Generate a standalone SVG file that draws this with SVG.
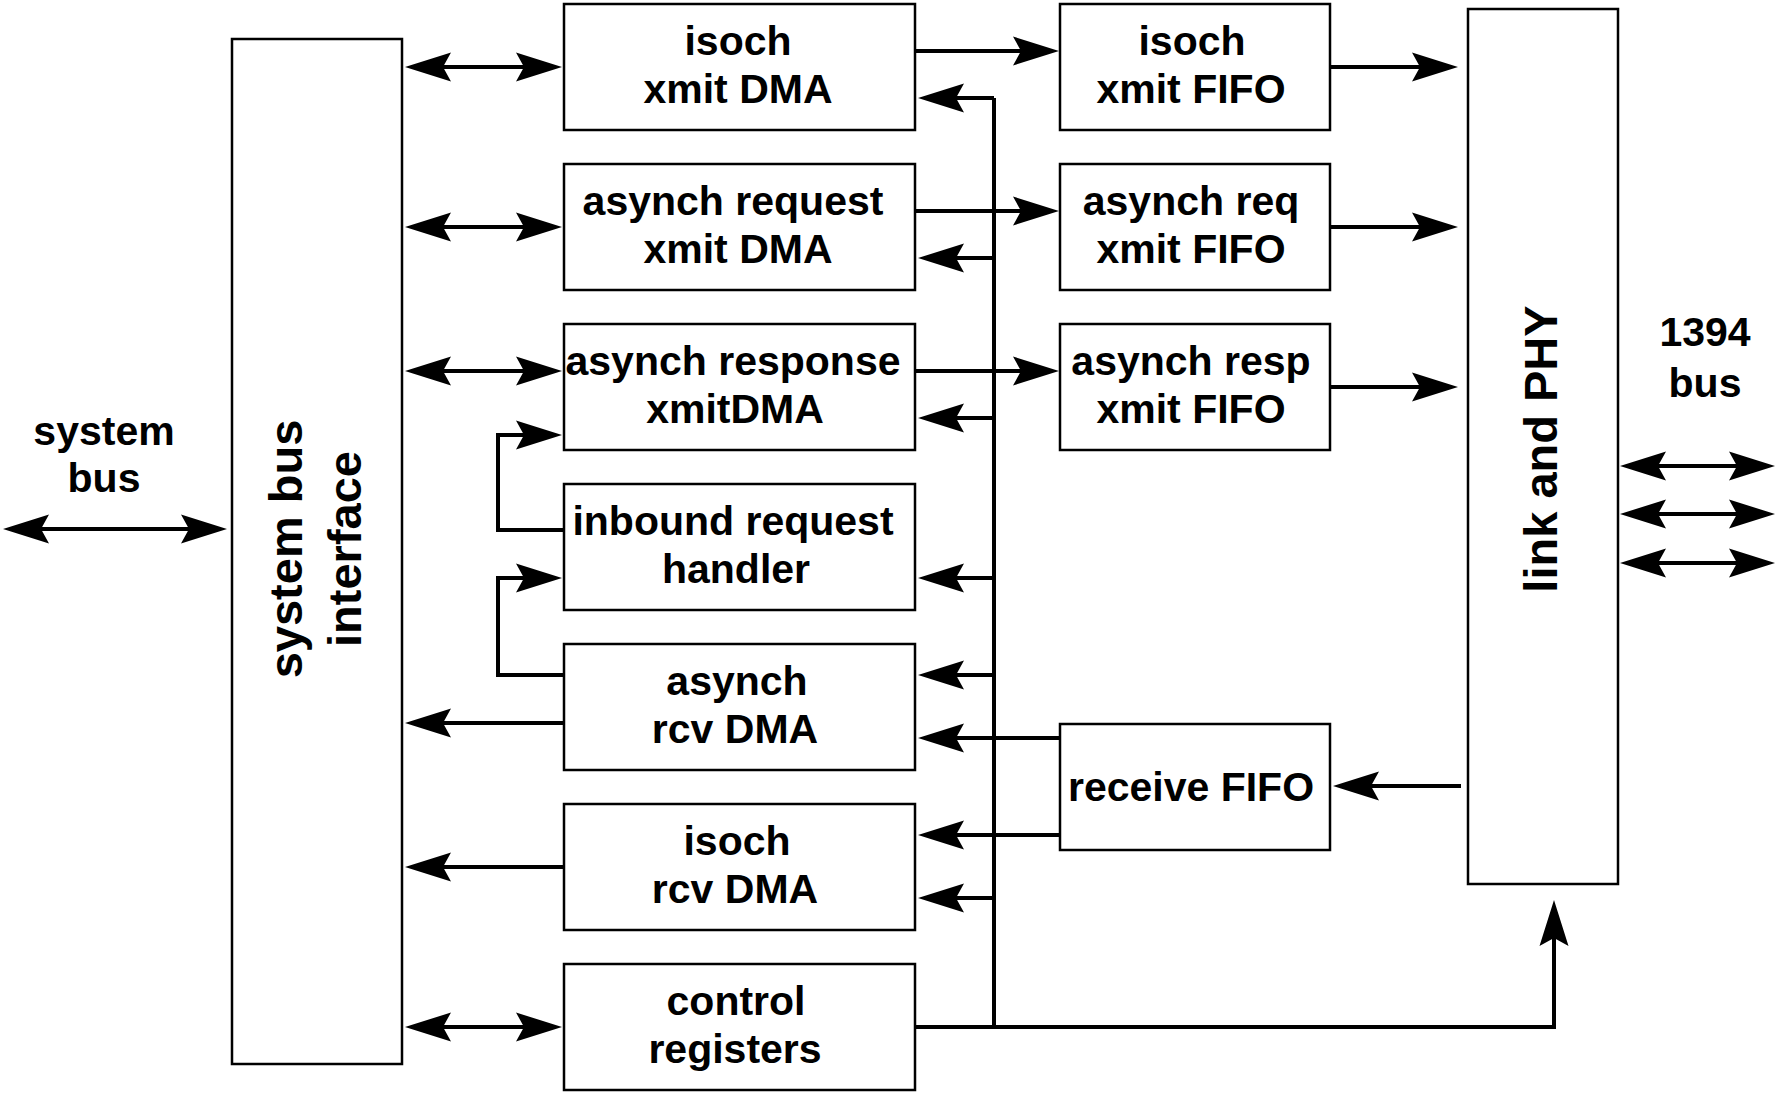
<svg xmlns="http://www.w3.org/2000/svg" width="1775" height="1096" viewBox="0 0 1775 1096">
<style>
.box{fill:#fff;stroke:#000;stroke-width:2.5}
.lbl{font-family:"Liberation Sans",Arial,sans-serif;font-weight:bold;font-size:41px;text-anchor:middle;fill:#000}
.big{font-size:47px}
.cn{fill:none;stroke:#000;stroke-width:4}
</style>
<defs>
<marker id="ah" markerUnits="userSpaceOnUse" markerWidth="48" markerHeight="32" viewBox="-46 -16 48 32" refX="-8" refY="0" orient="auto-start-reverse">
<path d="M0,0 L-46,-14.5 L-38,0 L-46,14.5 Z" fill="#000"/>
</marker>
</defs>
<rect width="1775" height="1096" fill="#fff"/>

<g id="system-bus-label">
<text class="lbl" x="104" y="445">system</text>
<text class="lbl" x="104" y="492">bus</text>
</g>
<g id="bus1394-label">
<text class="lbl" x="1705" y="346">1394</text>
<text class="lbl" x="1705" y="397">bus</text>
</g>

<g id="system-bus-interface">
<rect class="box" x="232" y="39" width="170" height="1025"/>
<text class="lbl big" transform="translate(302,549) rotate(-90)">system bus</text>
<text class="lbl big" transform="translate(361,549) rotate(-90)">interface</text>
</g>

<g id="isoch-xmit-dma">
<rect class="box" x="564" y="4" width="351" height="126"/>
<text class="lbl" x="738" y="55">isoch</text>
<text class="lbl" x="738" y="103">xmit DMA</text>
</g>
<g id="asynch-request-xmit-dma">
<rect class="box" x="564" y="164" width="351" height="126"/>
<text class="lbl" x="733" y="215">asynch request</text>
<text class="lbl" x="738" y="263">xmit DMA</text>
</g>
<g id="asynch-response-xmit-dma">
<rect class="box" x="564" y="324" width="351" height="126"/>
<text class="lbl" x="733" y="375">asynch response</text>
<text class="lbl" x="735" y="423">xmitDMA</text>
</g>
<g id="inbound-request-handler">
<rect class="box" x="564" y="484" width="351" height="126"/>
<text class="lbl" x="733" y="535">inbound request</text>
<text class="lbl" x="736" y="583">handler</text>
</g>
<g id="asynch-rcv-dma">
<rect class="box" x="564" y="644" width="351" height="126"/>
<text class="lbl" x="737" y="695">asynch</text>
<text class="lbl" x="735" y="743">rcv DMA</text>
</g>
<g id="isoch-rcv-dma">
<rect class="box" x="564" y="804" width="351" height="126"/>
<text class="lbl" x="737" y="855">isoch</text>
<text class="lbl" x="735" y="903">rcv DMA</text>
</g>
<g id="control-registers">
<rect class="box" x="564" y="964" width="351" height="126"/>
<text class="lbl" x="736" y="1015">control</text>
<text class="lbl" x="735" y="1063">registers</text>
</g>

<g id="isoch-xmit-fifo">
<rect class="box" x="1060" y="4" width="270" height="126"/>
<text class="lbl" x="1192" y="55">isoch</text>
<text class="lbl" x="1191" y="103">xmit FIFO</text>
</g>
<g id="asynch-req-xmit-fifo">
<rect class="box" x="1060" y="164" width="270" height="126"/>
<text class="lbl" x="1191" y="215">asynch req</text>
<text class="lbl" x="1191" y="263">xmit FIFO</text>
</g>
<g id="asynch-resp-xmit-fifo">
<rect class="box" x="1060" y="324" width="270" height="126"/>
<text class="lbl" x="1191" y="375">asynch resp</text>
<text class="lbl" x="1191" y="423">xmit FIFO</text>
</g>
<g id="receive-fifo">
<rect class="box" x="1060" y="724" width="270" height="126"/>
<text class="lbl" x="1191" y="801">receive FIFO</text>
</g>

<g id="link-and-phy">
<rect class="box" x="1468" y="9" width="150" height="875"/>
<text class="lbl big" transform="translate(1557,449) rotate(-90)">link and PHY</text>
</g>

<g id="connectors" class="cn">
<path class="cn" d="M11,529 H219" marker-start="url(#ah)" marker-end="url(#ah)"/>
<path class="cn" d="M413,67 H554" marker-start="url(#ah)" marker-end="url(#ah)"/>
<path class="cn" d="M413,227 H554" marker-start="url(#ah)" marker-end="url(#ah)"/>
<path class="cn" d="M413,371 H554" marker-start="url(#ah)" marker-end="url(#ah)"/>
<path class="cn" d="M413,1027 H554" marker-start="url(#ah)" marker-end="url(#ah)"/>
<path class="cn" d="M564,723 H413" marker-end="url(#ah)"/>
<path class="cn" d="M564,867 H413" marker-end="url(#ah)"/>
<path class="cn" d="M564,530 H498 V435 H554" marker-end="url(#ah)"/>
<path class="cn" d="M564,675 H498 V578 H554" marker-end="url(#ah)"/>
<path class="cn" d="M915,51 H1051" marker-end="url(#ah)"/>
<path class="cn" d="M915,211 H1051" marker-end="url(#ah)"/>
<path class="cn" d="M915,371 H1051" marker-end="url(#ah)"/>
<path class="cn" d="M994,98 V1027"/>
<path class="cn" d="M994,98 H926" marker-end="url(#ah)"/>
<path class="cn" d="M994,258 H926" marker-end="url(#ah)"/>
<path class="cn" d="M994,418 H926" marker-end="url(#ah)"/>
<path class="cn" d="M994,578 H926" marker-end="url(#ah)"/>
<path class="cn" d="M994,675 H926" marker-end="url(#ah)"/>
<path class="cn" d="M1060,738 H926" marker-end="url(#ah)"/>
<path class="cn" d="M1060,835 H926" marker-end="url(#ah)"/>
<path class="cn" d="M994,898 H926" marker-end="url(#ah)"/>
<path class="cn" d="M915,1027 H1554 V908" marker-end="url(#ah)"/>
<path class="cn" d="M1330,67 H1450" marker-end="url(#ah)"/>
<path class="cn" d="M1330,227 H1450" marker-end="url(#ah)"/>
<path class="cn" d="M1330,387 H1450" marker-end="url(#ah)"/>
<path class="cn" d="M1461,786 H1341" marker-end="url(#ah)"/>
<path class="cn" d="M1628,466 H1767" marker-start="url(#ah)" marker-end="url(#ah)"/>
<path class="cn" d="M1628,514 H1767" marker-start="url(#ah)" marker-end="url(#ah)"/>
<path class="cn" d="M1628,563 H1767" marker-start="url(#ah)" marker-end="url(#ah)"/>
</g>
</svg>
